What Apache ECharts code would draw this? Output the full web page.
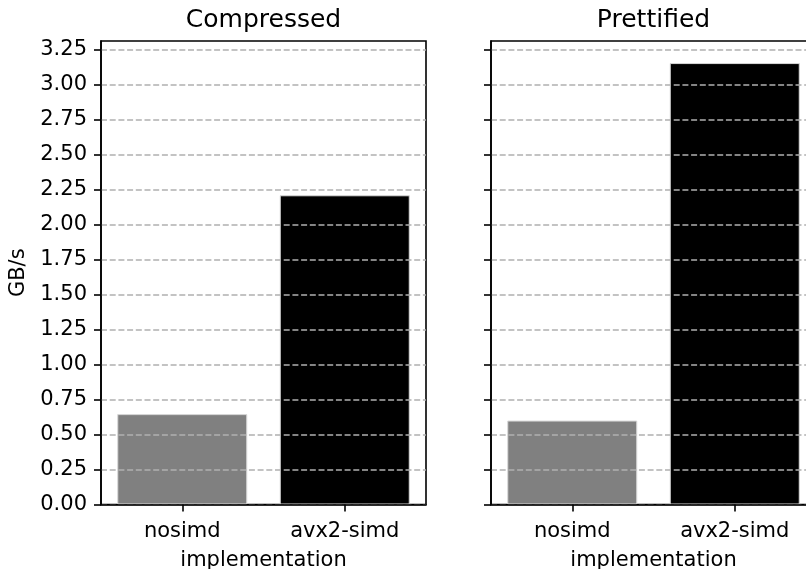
<!DOCTYPE html>
<html>
<head>
<meta charset="utf-8">
<script src="https://cdn.jsdelivr.net/npm/echarts@6/dist/echarts.min.js"></script>
<style>html,body{margin:0;padding:0;background:#fff}#c{width:806px;height:569px}</style>
</head>
<body>
<div id="c"></div>
<script>
const categories = ['nosimd', 'avx2-simd'];
const panelTitles = ['Compressed', 'Prettified'];
const compressedValues = [0.646, 2.21];
const prettifiedValues = [0.600, 3.155];
const yTicks = [0, 0.25, 0.5, 0.75, 1.0, 1.25, 1.5, 1.75, 2.0, 2.25, 2.5, 2.75, 3.0, 3.25];
const barColors = ['#808080', '#000000'];
const yMax = 3.155 * 1.05;

const FONT = 'DejaVu Sans';
const chart = echarts.init(document.getElementById('c'), null, {renderer: 'canvas'});

const gridLeft = [101, 491];
const panelValues = [compressedValues, prettifiedValues];

function mkX(i) {
  return {
    type: 'category', gridIndex: i, data: categories, boundaryGap: true,
    z: 5,
    axisLine: {show: true, lineStyle: {color: '#000', width: 1.6}},
    axisTick: {show: true, alignWithLabel: true, length: 7, lineStyle: {color: '#000', width: 1.6}},
    axisLabel: {color: '#000', fontFamily: FONT, fontSize: 21, margin: 17},
    name: 'implementation', nameLocation: 'middle', nameGap: 46,
    nameTextStyle: {color: '#000', fontFamily: FONT, fontSize: 21},
    splitLine: {show: false}
  };
}
function mkY(i) {
  return {
    type: 'value', gridIndex: i, min: 0, max: yMax, interval: 0.25,
    z: 5,
    axisLine: {show: true, lineStyle: {color: '#000', width: 1.6}},
    axisTick: {show: true, length: 7, customValues: yTicks, lineStyle: {color: '#000', width: 1.6}},
    axisLabel: {show: i === 0, customValues: yTicks, color: '#000', fontFamily: FONT, fontSize: 21, margin: 14,
      formatter: v => v.toFixed(2)},
    splitLine: {show: true, lineStyle: {color: '#b0b0b0', width: 1.6, type: [6, 2.7]}},
    name: i === 0 ? 'GB/s' : '', nameLocation: 'middle', nameGap: 72,
    nameTextStyle: {color: '#000', fontFamily: FONT, fontSize: 21}
  };
}

const option = {
  animation: false,
  backgroundColor: '#fff',
  title: panelTitles.map((t, i) => ({
    text: t, left: gridLeft[i] + 162.5, top: 8, textAlign: 'center', padding: 0,
    textStyle: {fontFamily: FONT, fontSize: 25, fontWeight: 'normal', color: '#000'}
  })),
  grid: gridLeft.map((l, i) => ({
    left: l, top: 41, width: 325, height: 463.5, show: true,
    outerBoundsMode: 'none',
    borderColor: '#000', borderWidth: 1.6, backgroundColor: 'transparent', containLabel: false
  })),
  xAxis: [mkX(0), mkX(1)],
  yAxis: [mkY(0), mkY(1)],
  series: panelValues.map((vals, i) => ({
    type: 'bar', xAxisIndex: i, yAxisIndex: i, barWidth: '80%', z: 2,
    data: vals.map((v, j) => ({value: v, itemStyle: {color: barColors[j]}})),
    itemStyle: {borderColor: '#d8d8d8', borderWidth: 1}
  }))
};
chart.setOption(option);
</script>
</body>
</html>
